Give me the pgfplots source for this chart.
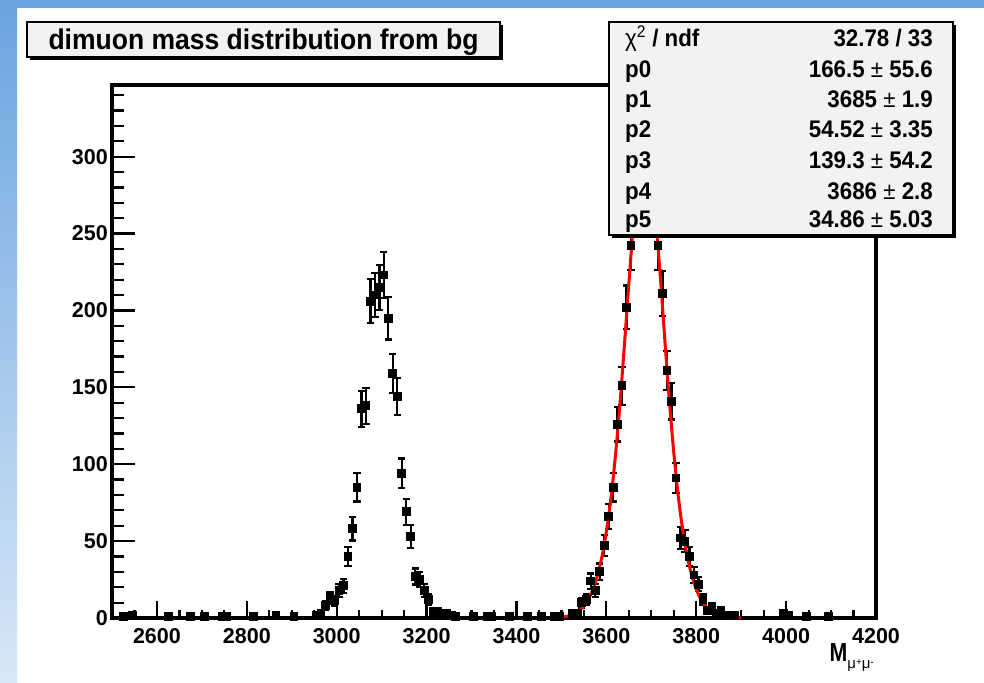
\documentclass[border=0pt]{standalone}
\usepackage{fontspec}
\setmainfont{Liberation Sans}
\usepackage{graphicx}
\usepackage{pgfplots}
\pgfplotsset{compat=1.18}
\usepackage{pgfplotstable}
\definecolor{bandblue}{HTML}{6AA4E0}
\definecolor{bandlight}{HTML}{D8E7F7}
\definecolor{boxgray}{HTML}{F2F2F2}

\pgfplotstableread{
x y e
2525 1 1
2545 2 1.41
2625 1 1
2675 1 1
2705 1 1
2745 1 1
2755 1 1
2815 1 1
2865 2 1.41
2905 1 1
2955 2 1.41
2965 3 1.73
2975 8 2.83
2985 13 3.61
2995 11 3.32
3005 18 4.24
3015 21 4.58
3025 40 6.32
3035 58 7.62
3045 85 9.22
3055 136 11.66
3065 138 11.75
3075 206 14.35
3085 210 14.49
3095 215 14.66
3105 223 14.93
3115 195 13.96
3125 159 12.61
3135 144 12.00
3145 94 9.70
3155 69 8.31
3165 53 7.28
3175 27 5.20
3185 25 5.00
3195 18 4.24
3205 12 3.46
3215 4 2
3225 4 2
3235 3 1.73
3245 3 1.73
3255 2 1.41
3265 1 1
3305 1 1
3335 1 1
3345 1 1
3385 1 1
3425 1 1
3455 1 1
3485 1 1
3495 1 1
3525 3 1.73
3535 3 1.73
3545 10 3.16
3555 12 3.46
3565 24 4.90
3575 18 4.24
3585 30 5.48
3595 47 6.86
3605 66 8.12
3615 85 9.22
3625 126 11.22
3635 151 12.29
3645 202 14.21
3655 242 15.56
3665 270 16.43
3675 300 17.32
3685 310 17.61
3695 295 17.18
3705 270 16.43
3715 242 15.56
3725 211 14.53
3735 161 12.69
3745 141 11.87
3755 91 9.54
3765 52 7.21
3775 50 7.07
3785 40 6.32
3795 28 5.29
3805 22 4.69
3815 12 3.46
3825 5 2.24
3835 7 2.65
3845 3 1.73
3855 5 2.24
3865 2 1.41
3885 2 1.41
3995 3 1.73
4005 2 1.41
4045 1 1
4095 1 1
}\histdata

\pgfplotstableread{
x y
3500 0.53
3510 0.97
3520 1.71
3530 2.93
3540 4.87
3550 7.83
3560 12.22
3570 18.55
3580 27.43
3590 39.62
3600 56.03
3610 77.58
3620 105.0
3630 138.4
3640 176.8
3650 217.2
3660 255.4
3670 285.7
3680 303.1
3690 304.2
3700 288.8
3710 259.8
3720 222.1
3730 181.2
3740 142.1
3750 107.6
3760 79.3
3770 57.0
3780 40.2
3790 27.7
3800 18.7
3810 12.3
3820 7.85
3830 4.87
3840 2.94
3850 1.71
3860 0.97
3870 0.53
3880 0.28
3890 0.14
3900 0.07
}\fitdata

\pgfplotsset{rootaxis/.style={
  at={(112pt,64pt)}, anchor=south west,
  scale only axis, width=764pt, height=533pt,
  xmin=2500, xmax=4200, ymin=0, ymax=346.6,
  axis line style={line width=3.2pt, black},
  every outer x axis line/.append style={line width=3.2pt},
  every outer y axis line/.append style={line width=3.2pt},
  tick align=inside,
  tick style={line width=2.2pt, black},
  tick pos=left,
  /pgf/number format/assume math mode=true,
  /pgf/number format/1000 sep={},
  ticklabel style={font=\bfseries\fontsize{21.5}{21.5}\selectfont},
  clip=false,
}}

\newcommand{\sfnt}{\bfseries\fontsize{24}{24}\selectfont}
\newcommand{\sval}[1]{\scalebox{0.93}[1]{\sfnt #1}}

\begin{document}
\begin{tikzpicture}[x=1pt,y=1pt]
\useasboundingbox (0,0) rectangle (984,682);
\fill[white] (0,0) rectangle (984,682);
\shade[top color=bandblue, bottom color=bandlight] (0,0) rectangle (17,682);
\fill[bandblue] (0,674) rectangle (984,682);

% y ticks
\begin{axis}[rootaxis,
  xtick=\empty,
  ytick={0,50,...,300},
  minor ytick={10,20,...,340},
  major tick length=23pt, minor tick length=12pt,
  yticklabel style={anchor=east, inner sep=0pt, xshift=-4pt},
]
\end{axis}

% data + x ticks
\begin{axis}[rootaxis,
  ytick=\empty,
  xtick={2600,2800,...,4200},
  minor xtick={2550,2600,...,4200},
  major tick length=17pt, minor tick length=8pt,
  xticklabel style={anchor=north, inner sep=0pt, yshift=-10pt},
]
\addplot[only marks, mark=square*, mark size=3.9pt,
  mark options={black, line width=0pt},
  error bars/.cd, y dir=both, y explicit,
  error bar style={line width=2.2pt, black},
  error mark=-,
  error mark options={rotate=90, line width=2.2pt, black, mark size=3.6pt}]
  table[x=x, y=y, y error=e] {\histdata};
\addplot[red, line width=3pt, smooth, no markers] table[x=x, y=y] {\fitdata};
\end{axis}

% x axis title
\node[anchor=base east, inner sep=0pt] at (874,20.3)
  {\scalebox{0.82}[1]{\bfseries\fontsize{26}{26}\selectfont M}\raisebox{-7pt}{\fontsize{15}{15}\selectfont μ\raisebox{3.5pt}{\fontsize{10}{10}\selectfont +}μ\raisebox{3.5pt}{\fontsize{10}{10}\selectfont -}}};

% title box
\fill[black] (30,622) rectangle (503,657);
\draw[line width=1.8pt, fill=boxgray] (27,625) rectangle (500,660);
\node[anchor=base, inner sep=0pt] at (263.5,632)
  {\scalebox{0.93}[1]{\bfseries\fontsize{28.5}{28.5}\selectfont dimuon mass distribution from bg}};

% stats box
\fill[black] (612,444) rectangle (956,657);
\draw[line width=1.8pt, fill=boxgray] (609,447) rectangle (953,660);
\begin{scope}[every node/.style={inner sep=0pt}]
\node[anchor=base west] at (625,635) {\scalebox{0.93}[1]{\fontsize{24}{24}\selectfont χ\textsuperscript{2} \bfseries / ndf}};
\node[anchor=base east] at (933,635) {\sval{32.78 / 33}};
\node[anchor=base west] at (625,604) {\sval{p0}};
\node[anchor=base east] at (933,604) {\sval{166.5 {\mdseries ±} 55.6}};
\node[anchor=base west] at (625,574) {\sval{p1}};
\node[anchor=base east] at (933,574) {\sval{3685 {\mdseries ±} 1.9}};
\node[anchor=base west] at (625,544) {\sval{p2}};
\node[anchor=base east] at (933,544) {\sval{54.52 {\mdseries ±} 3.35}};
\node[anchor=base west] at (625,513) {\sval{p3}};
\node[anchor=base east] at (933,513) {\sval{139.3 {\mdseries ±} 54.2}};
\node[anchor=base west] at (625,482) {\sval{p4}};
\node[anchor=base east] at (933,482) {\sval{3686 {\mdseries ±} 2.8}};
\node[anchor=base west] at (625,454) {\sval{p5}};
\node[anchor=base east] at (933,454) {\sval{34.86 {\mdseries ±} 5.03}};
\end{scope}
\end{tikzpicture}
\end{document}
